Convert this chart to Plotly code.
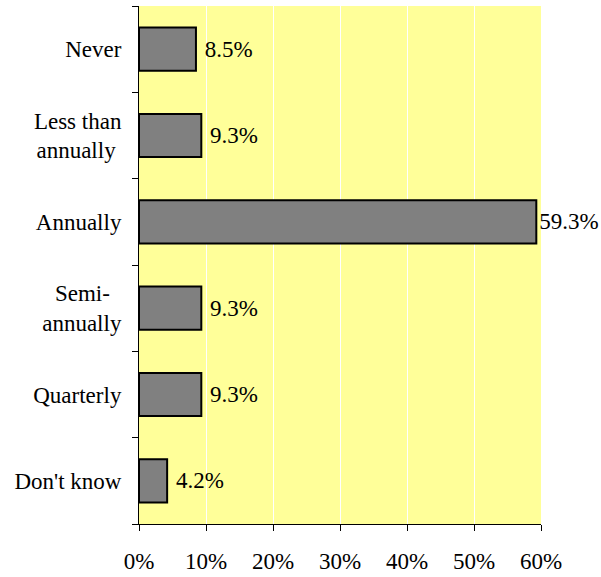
import plotly.graph_objects as go

categories = ["Never", "Less than annually", "Annually", "Semi-annually", "Quarterly", "Don't know"]
tick_labels = ["Never", "Less than<br>annually\u00a0", "Annually", "Semi-\u00a0\u00a0<br>annually", "Quarterly", "Don't know"]
values = [8.5, 9.3, 59.3, 9.3, 9.3, 4.2]
labels = ["8.5%", "9.3%", "59.3%", "9.3%", "9.3%", "4.2%"]
x_ticks = [0, 10, 20, 30, 40, 50, 60]
x_tick_labels = ["0%", "10%", "20%", "30%", "40%", "50%", "60%"]

SERIF = "Liberation Serif, Times New Roman, Times, serif"

# small gap before the labels, except the long bar whose label hugs the edge
templates = ["\u00a0%{text}" if v < 50 else "%{text}" for v in values]

fig = go.Figure(go.Bar(
    x=values, y=categories, orientation="h",
    text=labels, texttemplate=templates, textposition="outside",
    cliponaxis=False, constraintext="none",
    textfont=dict(family=SERIF, size=23, color="black"),
    marker=dict(color="#808080", line=dict(color="black", width=2)),
    width=0.5,
))

fig.update_layout(
    width=601, height=577,
    margin=dict(l=139, r=60, t=6, b=53, autoexpand=False),
    plot_bgcolor="#FFFF99", paper_bgcolor="white",
    font=dict(family=SERIF, size=23, color="black"),
    showlegend=False,
)
fig.update_xaxes(
    range=[0, 60], tickvals=x_ticks, ticktext=x_tick_labels,
    showgrid=True, gridcolor="white", gridwidth=1,
    showline=True, linecolor="black", linewidth=1,
    ticks="outside", ticklen=6, tickcolor="black", zeroline=False,
    automargin=False, ticklabelstandoff=10,
)
fig.update_yaxes(
    autorange="reversed", showgrid=False,
    tickvals=categories, ticktext=tick_labels,
    showline=True, linecolor="black", linewidth=1,
    ticks="outside", ticklen=6, tickcolor="black", tickson="boundaries",
    automargin=False, ticklabelstandoff=12,
)

fig.write_html("out.html", config={"displayModeBar": False},
               post_script="document.body.style.margin='0';")
